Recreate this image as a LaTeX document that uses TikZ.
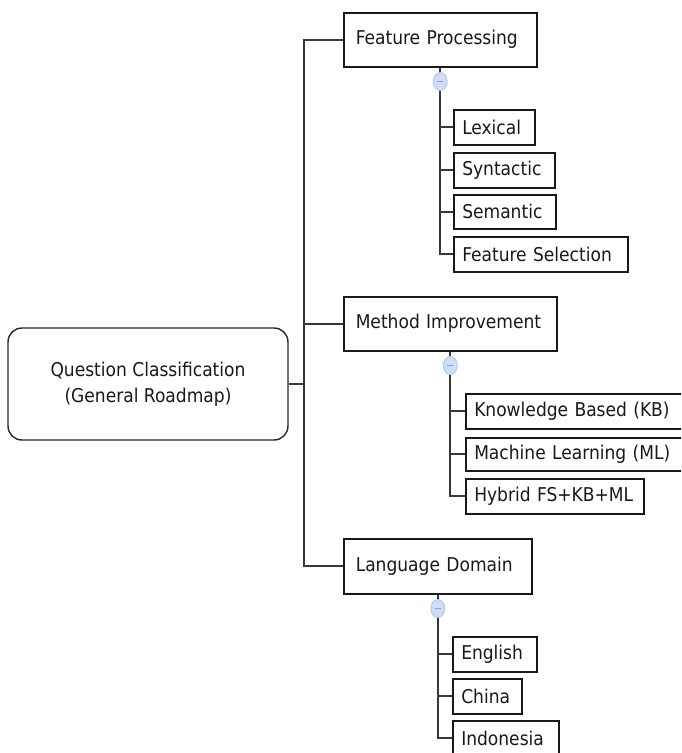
\documentclass[tikz,border=0pt]{standalone}
\usepackage{fontspec}
\setmainfont{DejaVu Sans Condensed}
\usetikzlibrary{shapes.geometric,calc}
\definecolor{togfill}{RGB}{206,221,247}
\definecolor{togdraw}{RGB}{172,198,238}
\definecolor{togmark}{RGB}{140,160,200}
\begin{document}
\begin{tikzpicture}[x=1pt,y=-1pt,
  every node/.style={font=\fontsize{19}{26}\selectfont, text=black!90},
  lvl/.style={draw=black!90, line width=1.5pt, anchor=north west, inner ysep=0pt, inner xsep=12pt, align=left},
  leaf/.style={draw=black!90, line width=1.5pt, anchor=north west, inner ysep=0pt, inner xsep=8.5pt, align=left},
  rootbox/.style={draw=black!85, line width=1.4pt, rounded corners=14pt, minimum width=280pt, minimum height=112pt, align=center},
  conn/.style={draw=black!78, line width=1.7pt},
  tog/.style={ellipse, draw=togdraw, line width=0.8pt, fill=togfill, minimum width=14pt, minimum height=18pt, inner sep=0pt,
    path picture={\draw[togmark, line width=1pt] ([xshift=-3pt]path picture bounding box.center) -- ([xshift=3pt]path picture bounding box.center);}}
]
\useasboundingbox (0,0) rectangle (681,753);
\clip (0,0) rectangle (681,753);

% root
\node[rootbox] (root) at (148,384) {Question Classification\\(General Roadmap)};

% level 1
\node[lvl, text width=169pt, minimum height=54pt] (fp) at (343,12) {Feature Processing};
\node[lvl, text width=189pt, minimum height=54pt] (mi) at (343,296) {Method Improvement};
\node[lvl, text width=164pt, minimum height=55pt] (ld) at (343,538) {Language Domain};

% leaves
\node[leaf, text width=64pt, minimum height=35pt] (lex) at (453,109) {Lexical};
\node[leaf, text width=84pt, minimum height=35pt] (syn) at (453,152) {Syntactic};
\node[leaf, text width=85pt, minimum height=34pt] (sem) at (453,194) {Semantic};
\node[leaf, text width=157pt, minimum height=35pt] (fs) at (453,236) {Feature Selection};

\node[leaf, text width=213pt, minimum height=35pt] (kb) at (465,393) {Knowledge Based (KB)};
\node[leaf, text width=213pt, minimum height=33pt] (ml) at (465,437) {Machine Learning (ML)};
\node[leaf, text width=161pt, minimum height=35pt] (hy) at (465,478) {Hybrid FS+KB+ML};

\node[leaf, text width=67pt, minimum height=35pt] (en) at (452,636) {English};
\node[leaf, text width=52pt, minimum height=35pt] (cn) at (452,678) {China};
\node[leaf, text width=89pt, minimum height=35pt] (id) at (452,720) {Indonesia};

% trunk
\coordinate (trunk) at (304,384);
\draw[conn] (root.east) -- (trunk);
\foreach \n in {fp,mi,ld} \draw[conn] (trunk) |- (\n.west);

% toggle junctions
\coordinate (fpk) at ($(fp.south)+(0,14)$);
\coordinate (mik) at ($(mi.south)+(0,14)$);
\coordinate (ldk) at ($(ld.south)+(0,14)$);
\draw[conn] (fp.south) -- (fpk);
\draw[conn] (mi.south) -- (mik);
\draw[conn] (ld.south) -- (ldk);
\foreach \n in {lex,syn,sem,fs} \draw[conn] (fpk) |- (\n.west);
\foreach \n in {kb,ml,hy} \draw[conn] (mik) |- (\n.west);
\foreach \n in {en,cn,id} \draw[conn] (ldk) |- (\n.west);

\node[tog] (fpt) at (fpk) {};
\node[tog] (mit) at (mik) {};
\node[tog] (ldt) at (ldk) {};
\end{tikzpicture}
\end{document}
